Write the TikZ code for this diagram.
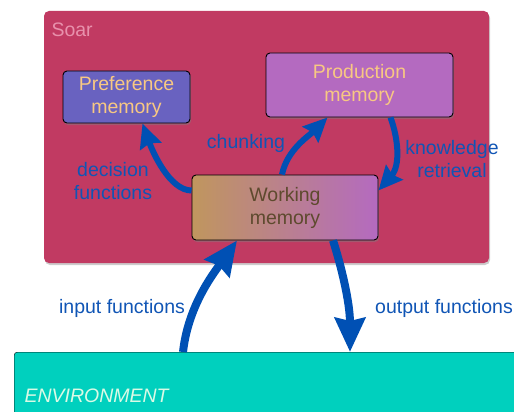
\documentclass[tikz,border=0pt]{standalone}
\usepackage{fontspec}
\setmainfont{Liberation Sans}
\usetikzlibrary{arrows.meta,positioning,shadows}
\definecolor{soarred}{RGB}{193,58,98}
\definecolor{soartext}{RGB}{232,145,172}
\definecolor{prefblue}{RGB}{105,98,192}
\definecolor{prodpurple}{RGB}{180,106,192}
\definecolor{wmtan}{RGB}{192,150,94}
\definecolor{wmtext}{RGB}{94,74,46}
\definecolor{memtext}{RGB}{248,200,130}
\definecolor{envteal}{RGB}{0,208,190}
\definecolor{envtext}{RGB}{218,250,230}
\definecolor{flowblue}{RGB}{0,80,180}
\definecolor{lblblue}{RGB}{16,85,181}

\begin{document}
\begin{tikzpicture}[x=1pt, y=-1pt,
    font=\fontsize{19.5}{23}\selectfont,
    mem/.style={rectangle, draw=black, line width=0.9pt, rounded corners=4pt, align=center, text=memtext,
      drop shadow={opacity=0.45, shadow xshift=1pt, shadow yshift=-2pt}},
    bigarrow/.style={-{Stealth[length=34pt, width=30pt, inset=3pt]}, line width=8pt, draw=flowblue},
    smallarrow/.style={-{Stealth[length=24pt, width=22pt, inset=3pt]}, line width=6pt, draw=flowblue},
    lbl/.style={text=lblblue, align=center}
  ]
    \useasboundingbox (0,0) rectangle (514,412);
    % Soar container and environment
    \node[rectangle, fill=soarred, rounded corners=5pt, minimum width=445pt, minimum height=252pt,
      drop shadow={opacity=0.4, shadow xshift=1pt, shadow yshift=-2pt}] (soar) at (266.5,137) {};
    \node[text=soartext, anchor=west] (soarlbl) at (48,30) {Soar};
    \node[rectangle, draw=black, fill=envteal, rounded corners=3pt, anchor=north west,
      minimum width=520pt, minimum height=80pt] (env) at (14,352) {};
    \node[text=envtext, anchor=base west, font=\fontsize{19.5}{23}\selectfont\itshape] (envlbl) at (21,402) {ENVIRONMENT};

    % memories
    \node[mem, fill=prefblue, minimum width=127pt, minimum height=52pt] (pref) at (126.5,97) {Preference\\memory};
    \node[mem, fill=prodpurple, minimum width=187pt, minimum height=64pt] (prod) at (359.5,85) {Production\\memory};
    \node[mem, left color=wmtan, right color=prodpurple, text=wmtext, minimum width=186pt, minimum height=65pt] (wm) at (285,207.5) {Working\\memory};

    % flows
    \draw[smallarrow] ([yshift=17pt]wm.west) .. controls +(-22,0) and +(10,28) .. ([xshift=16pt]pref.south);
    \draw[smallarrow] ([xshift=-3pt]wm.north) .. controls +(5,-25) and +(-18,18) .. ([xshift=-32pt]prod.south);
    \draw[smallarrow] ([xshift=31pt]prod.south) .. controls +(8,22) and +(22,-25) .. ([yshift=17pt]wm.east);
    \draw[bigarrow] ([xshift=169pt]env.north west) .. controls +(5,-45) and +(-25,35) .. ([xshift=-48pt]wm.south);
    \draw[bigarrow] ([xshift=48pt]wm.south) .. controls +(8,25) and +(0,-50) .. ([xshift=336pt]env.north west);

    % labels
    \node[lbl] (declbl) at (113,181) {decision\\functions};
    \node[lbl] (chunklbl) at (246,143) {chunking};
    \node[lbl] (knowlbl) at (452,159) {knowledge\\retrieval};
    \node[lbl] (inlbl) at (122,308) {input functions};
    \node[lbl] (outlbl) at (444,308) {output functions};
  \end{tikzpicture}
\end{document}
